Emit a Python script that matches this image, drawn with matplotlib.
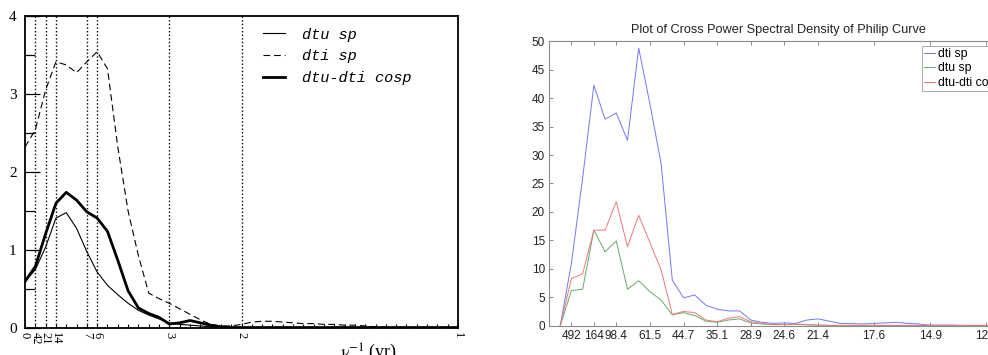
import numpy as np
import matplotlib
matplotlib.use("Agg")
import matplotlib.pyplot as plt

# ---- left panel data (frequency k/42, 1/yr) ----
k_left = np.arange(43)
dtu_sp = [0.60, 0.75, 1.04, 1.41, 1.48, 1.28, 0.98, 0.72, 0.55, 0.43,
          0.32, 0.23, 0.17, 0.12, 0.07, 0.05, 0.04, 0.03, 0.02, 0.01,
          0.01, 0.01, 0.01, 0.01, 0.01, 0.01, 0.01, 0.01, 0.01, 0.01,
          0.01, 0.01, 0.01, 0.01, 0.01, 0.01, 0.01, 0.01, 0.01, 0.01,
          0.01, 0.01, 0.01]
dti_sp = [2.32, 2.54, 3.05, 3.41, 3.37, 3.27, 3.41, 3.54, 3.32, 2.32,
          1.50, 0.93, 0.45, 0.38, 0.32, 0.25, 0.18, 0.11, 0.05, 0.03,
          0.03, 0.05, 0.08, 0.09, 0.09, 0.08, 0.07, 0.06, 0.06, 0.05,
          0.05, 0.04, 0.04, 0.03, 0.02, 0.01, 0.01, 0.01, 0.01, 0.01,
          0.01, 0.01, 0.01]
dtu_dti_cosp = [0.60, 0.79, 1.21, 1.60, 1.74, 1.64, 1.49, 1.41, 1.24, 0.87,
                0.48, 0.26, 0.19, 0.14, 0.055, 0.07, 0.10, 0.07, 0.04, 0.02,
                0.01, 0.01, 0.01, 0.01, 0.01, 0.01, 0.01, 0.01, 0.01, 0.01,
                0.01, 0.01, 0.01, 0.01, 0.01, 0.01, 0.01, 0.01, 0.01, 0.01,
                0.01, 0.01, 0.01]
period_marks = [42, 21, 14, 7, 6, 3, 2]
left_tick_labels = ['0', '42', '21', '14', '7', '6', '3', '2', '1']

# ---- right panel data (index k, periods 492/k) ----
k_right = np.arange(41)
psd_dti = [0, 11, 26, 42.3, 36.3, 37.4, 32.6, 48.8, 39, 28.5,
           8.0, 4.9, 5.4, 3.6, 2.9, 2.6, 2.6, 1.0, 0.6, 0.4,
           0.5, 0.4, 1.0, 1.2, 0.8, 0.4, 0.35, 0.3, 0.4, 0.5,
           0.6, 0.4, 0.3, 0.1, 0.1, 0.1, 0.05, 0.05, 0.05, 0.05, 0.05]
psd_dtu = [0, 6.2, 6.4, 16.8, 13.0, 14.9, 6.4, 7.9, 6.0, 4.5,
           1.9, 2.3, 1.8, 0.8, 0.6, 1.0, 1.2, 0.5, 0.3, 0.2,
           0.2, 0.2, 0.15, 0.1, 0.05, 0.05, 0.05, 0.05, 0.05, 0.05,
           0.05, 0.05, 0.05, 0.05, 0.05, 0.05, 0.05, 0.05, 0.05, 0.05, 0.05]
psd_cosp = [0, 8.3, 9.1, 16.8, 16.8, 21.8, 13.9, 19.4, 14.6, 9.8,
            2.0, 2.5, 2.3, 1.0, 0.7, 1.3, 1.6, 0.7, 0.4, 0.2,
            0.2, 0.3, 0.2, 0.1, 0.05, 0.05, 0.05, 0.05, 0.05, 0.05,
            0.05, 0.05, 0.05, 0.05, 0.05, 0.05, 0.05, 0.05, 0.05, 0.05, 0.05]
right_tick_k = [1, 3, 5, 8, 11, 14, 17, 20, 23, 28, 33, 38]
right_tick_labels = ['492', '164', '98.4', '61.5', '44.7', '35.1',
                     '28.9', '24.6', '21.4', '17.6', '14.9', '12.9']

plt.rcParams['mathtext.fontset'] = 'stix'

fig = plt.figure(figsize=(9.88, 3.55), dpi=100)

# ================= left panel =================
ax1 = fig.add_axes([0.0253, 0.0752, 0.4383, 0.8806])
f = k_left / 42.0
ax1.plot(f, dtu_sp, color='black', lw=0.8, label='dtu sp')
ax1.plot(f, dti_sp, color='black', lw=0.8, dashes=(6, 3.5), label='dti sp')
ax1.plot(f, dtu_dti_cosp, color='black', lw=2.0, label='dtu-dti cosp')
for p in period_marks:
    ax1.axvline(1.0 / p, color='black', lw=1.0, ls=(0, (1, 1.6)), zorder=0)

ax1.set_xlim(0, 1)
ax1.set_ylim(0, 4)
for s in ax1.spines.values():
    s.set_linewidth(1.3)

ax1.set_xticks([0] + [1.0 / p for p in period_marks] + [1])
ax1.set_xticklabels(left_tick_labels, rotation=-90, family='Liberation Serif',
                    fontsize=9)
ax1.set_xticks(k_left / 42.0, minor=True)
ax1.tick_params(axis='x', which='both', direction='in', length=3, width=0.8,
                pad=3)
ax1.set_yticks([0, 1, 2, 3, 4])
ax1.set_yticklabels(['0', '1', '2', '3', '4'], family='Liberation Serif',
                    fontsize=11)
ax1.set_yticks(np.arange(0.5, 4, 1.0), minor=True)
ax1.tick_params(axis='y', which='major', direction='in', length=11, width=0.9,
                pad=6)
ax1.tick_params(axis='y', which='minor', direction='in', length=7, width=0.9)

ax1.text(0.794, -0.042, r'$\mathrm{\nu}^{-1}$ (yr)', transform=ax1.transAxes,
         ha='center', va='top', family='Liberation Serif', fontsize=13)

leg1 = ax1.legend(loc='upper left', bbox_to_anchor=(0.55, 0.962), frameon=False,
                  prop={'family': 'Liberation Mono', 'style': 'italic',
                        'size': 11},
                  handlelength=1.45, handletextpad=1.1, labelspacing=0.5,
                  borderpad=0, borderaxespad=0)

# ================= right panel =================
ax2 = fig.add_axes([0.5557, 0.0825, 0.4651, 0.8012])
ax2.plot(k_right, psd_dti, color='#7676f2', lw=0.7, label='dti sp')
ax2.plot(k_right, psd_dtu, color='#68aa68', lw=0.7, label='dtu sp')
ax2.plot(k_right, psd_cosp, color='#ec7a7a', lw=0.7, label='dtu-dti cosp')
ax2.set_xlim(-1, 40)
ax2.set_ylim(0, 50)
ax2.set_xticks(right_tick_k)
ax2.set_xticklabels(right_tick_labels)
ax2.set_yticks(np.arange(0, 51, 5))
for s in ax2.spines.values():
    s.set_color('#8c8c8c')
    s.set_linewidth(0.8)
ax2.tick_params(direction='in', length=3, width=0.7, color='#8c8c8c',
                labelsize=8.5, labelcolor='#222222', top=True, right=True, pad=3)
for t in ax2.get_xticklabels() + ax2.get_yticklabels():
    t.set_family('Liberation Sans')
ax2.set_title('Plot of Cross Power Spectral Density of Philip Curve',
              family='Liberation Sans', fontsize=9.2, color='#222222', pad=6)
leg2 = ax2.legend(loc='upper right', fancybox=False, framealpha=1,
                  edgecolor='#aaaaaa',
                  prop={'family': 'Liberation Sans', 'size': 8.8},
                  handlelength=0.9, handletextpad=0.3, labelspacing=0.2,
                  borderpad=0.15, borderaxespad=0.4)
leg2.get_frame().set_linewidth(0.7)

fig.savefig('out.png', dpi=100)
